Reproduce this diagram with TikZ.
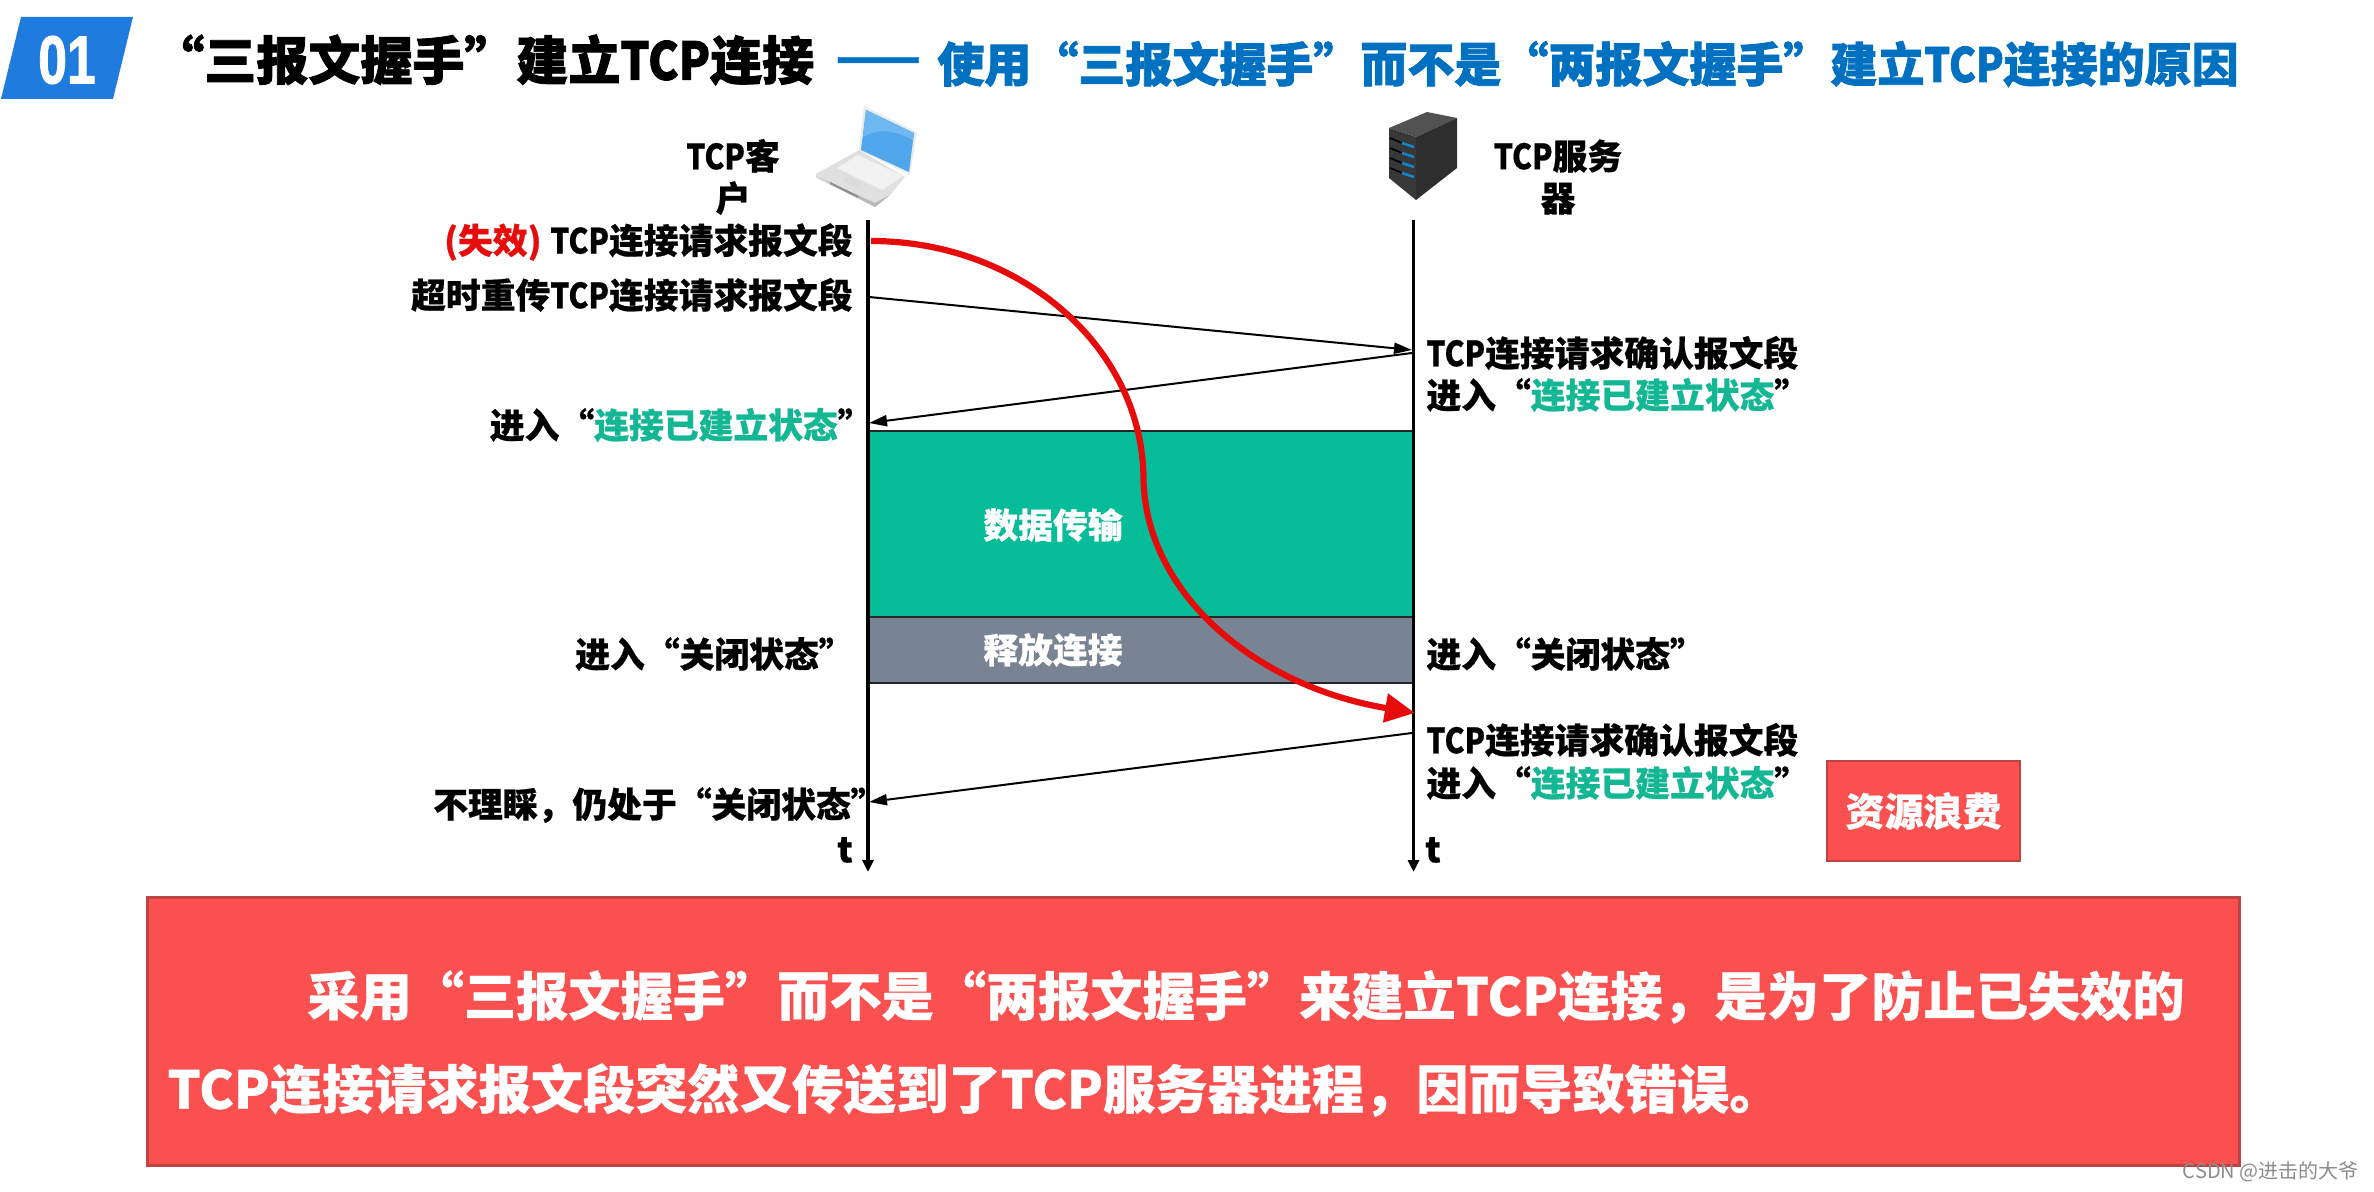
\documentclass[tikz,border=0pt]{standalone}
\usepackage{fontspec}
\usetikzlibrary{arrows.meta}
\setmainfont{Noto Sans CJK SC}[BoldFeatures={FakeBold=0.6}]
\newfontfamily\heavyfont{Noto Sans CJK SC}[BoldFeatures={FakeBold=1.6}]
\newfontfamily\digitfont{Liberation Sans}[BoldFeatures={FakeBold=1.5}]
\newcommand{\TCPn}{\scalebox{0.86}[1]{TCP}}
\definecolor{badgeblue}{HTML}{1F7BDE}
\definecolor{titleblue}{HTML}{0070C0}
\definecolor{tealtext}{HTML}{13B793}
\definecolor{tealfill}{HTML}{07BC99}
\definecolor{slategrey}{HTML}{788394}
\definecolor{alarmred}{HTML}{FB5050}
\definecolor{alarmedge}{HTML}{BE4444}
\definecolor{curvered}{HTML}{E60C0C}
\definecolor{screenblue}{HTML}{4FA6EA}
\definecolor{screenlight}{HTML}{6DB8F0}
\tikzset{
  lbl/.style={inner sep=0pt,font=\fontsize{17.4pt}{21pt}\selectfont\bfseries,align=center},
  lblr/.style={lbl,anchor=east},
  lbll/.style={lbl,anchor=west},
  bandlbl/.style={lbl,text=white,anchor=center},
  timeline/.style={line width=1.75pt,-{Triangle[length=6pt,width=5.5pt]}},
  msg/.style={line width=1pt,-{Triangle[length=9pt,width=5.5pt]}},
  oldmsg/.style={line width=3.1pt,color=curvered,-{Triangle[length=15pt,width=14pt]}},
  band/.style={draw=black!85,line width=.6pt},
  alarm/.style={fill=alarmred,draw=alarmedge,line width=1pt},
  bigtext/.style={inner sep=0pt,anchor=west,text=white,font=\fontsize{26.1pt}{30pt}\selectfont\bfseries}
}
\begin{document}
\begin{tikzpicture}[x=0.5pt,y=-0.5pt]
\useasboundingbox (0,0) rectangle (2374,1192);
\fill[white] (0,0) rectangle (2374,1192);

% header
\fill[badgeblue] (21,17) -- (133,17) -- (113,99) -- (1,99) -- cycle;
\node[inner sep=0pt,text=white] (badge) at (67,60) {\digitfont\bfseries\fontsize{34pt}{36pt}\selectfont\scalebox{0.76}[1]{01}};
\node[inner sep=0pt,anchor=west,font=\heavyfont\fontsize{26pt}{30pt}\selectfont\bfseries] (title) at (152,60) {“三报文握手”建立\scalebox{0.88}[1]{TCP}连接};
\node[inner sep=0pt,anchor=west,text=titleblue,font=\fontsize{25pt}{30pt}\selectfont\bfseries] (dash) at (835,66) {——};
\node[inner sep=0pt,anchor=west,text=titleblue,font=\heavyfont\fontsize{23.5pt}{28pt}\selectfont\bfseries] (subtitle) at (937,64) {使用“三报文握手”而不是“两报文握手”建立\TCPn 连接的原因};

% laptop
\fill[black!12] (816,174) -- (859,150) -- (905,177) -- (890,195) -- (875,207) -- (816,178) -- cycle;
\fill[black!28] (816,176) -- (875,207) -- (890,195) -- (875,203) -- cycle;
\fill[black!5] (837,168) -- (858,155) -- (903,176) -- (882,190) -- cycle;
\fill[black!14] (842,180) -- (850,176) -- (863,183) -- (855,188) -- cycle;
\draw[black!45,line width=1pt] (830,183) -- (858,197);
\fill[black!8] (864,106) -- (917,132) -- (910,175) -- (859,150) -- cycle;
\fill[screenblue] (866,110) -- (914,133) -- (909,172) -- (861,150) -- cycle;
\fill[screenlight] (866,110) -- (914,133) -- (913,140) .. controls (890,128) and (875,130) .. (863,137) -- cycle;

% server
\fill[black!68] (1389,128) -- (1427,112) -- (1457,118) -- (1416,137) -- cycle;
\fill[black!78] (1389,128) -- (1416,137) -- (1416,200) -- (1389,178) -- cycle;
\fill[black!82] (1416,137) -- (1457,118) -- (1457,168) -- (1416,200) -- cycle;
\foreach \i in {0,10,20,30}{
  \draw[black,line width=.8pt] (1390,138+\i) -- (1402,143+\i);
  \draw[cyan!70!blue,line width=1.2pt] (1402,143+\i) -- (1414,147+\i);
}

% participant labels
\node[lbl] (client) at (733,177) {\TCPn 客\\户};
\node[lbl] (server) at (1558,177) {\TCPn 服务\\器};

% bands
\node[band,fill=tealfill,minimum width=272.5pt,minimum height=93pt,inner sep=0pt] (data) at (1141.5,524) {};
\node[band,fill=slategrey,minimum width=272.5pt,minimum height=33pt,inner sep=0pt] (release) at (1141.5,650) {};
\node[bandlbl] (datalbl) at (1053,525) {数据传输};
\node[bandlbl] (rellbl) at (1053,650) {释放连接};

% timelines
\coordinate (ctop) at (868,220);
\coordinate (cend) at (868,872);
\coordinate (stop) at (1413.5,220);
\coordinate (send) at (1413.5,872);
\draw[timeline] (ctop) -- (cend);
\draw[timeline] (stop) -- (send);

% messages
\coordinate (retxa) at (869,297);
\coordinate (retxb) at (1412,350);
\coordinate (acka) at (1412,353);
\coordinate (ackb) at (869,423);
\coordinate (ack2a) at (1412,733);
\coordinate (ack2b) at (869,802);
\draw[msg] (retxa) -- (retxb);
\draw[msg] (acka) -- (ackb);
\draw[msg] (ack2a) -- (ack2b);

\coordinate (olda) at (871,241);
\coordinate (oldm) at (1143.5,480);
\coordinate (oldb) at (1415,713);
\draw[oldmsg] (olda) .. controls (1021,241) and (1143.5,348) .. (oldm)
  .. controls (1146,590) and (1250,685) .. (oldb);

% left labels
\node[lblr] (l1) at (853,242) {\textcolor{curvered}{(失效)}\hspace{.25em}\TCPn 连接请求报文段};
\node[lblr] (l2) at (853,295) {超时重传\TCPn 连接请求报文段};
\node[lblr] (l3) at (873,425) {进入“\textcolor{tealtext}{连接已建立状态}”};
\node[lblr] (l4) at (854,654) {进入“关闭状态”};
\node[lblr] (l5) at (886,805) {不理睬，仍处于“关闭状态”};
\node[lbl,anchor=center] (tc) at (845,850) {t};

% right labels
\node[lbll] (r1) at (1426,353) {\TCPn 连接请求确认报文段};
\node[lbll] (r2) at (1426,395) {进入“\textcolor{tealtext}{连接已建立状态}”};
\node[lbll] (r3) at (1426,654) {进入“关闭状态”};
\node[lbll] (r4) at (1426,740) {\TCPn 连接请求确认报文段};
\node[lbll] (r5) at (1426,783) {进入“\textcolor{tealtext}{连接已建立状态}”};
\node[lbl,anchor=center] (ts) at (1433,850) {t};

% waste box
\node[alarm,minimum width=96.5pt,minimum height=50pt,inner sep=0pt,text=white,font=\fontsize{19.5pt}{23pt}\selectfont\bfseries] (waste) at (1923.5,811) {资源浪费};

% conclusion box
\node[alarm,line width=1.5pt,minimum width=1046pt,minimum height=134pt,inner sep=0pt] (box) at (1193,1031) {};
\node[bigtext] (b1) at (307,997) {采用“三报文握手”而不是“两报文握手”来建立TCP连接，是为了防止已失效的};
\node[bigtext] (b2) at (167,1090) {TCP连接请求报文段突然又传送到了TCP服务器进程，因而导致错误。};

% watermark
\node[inner sep=0pt,anchor=east,text=black!45,font=\fontsize{10pt}{12pt}\selectfont] (wm) at (2359,1172) {CSDN @进击的大爷};
\end{tikzpicture}
\end{document}
